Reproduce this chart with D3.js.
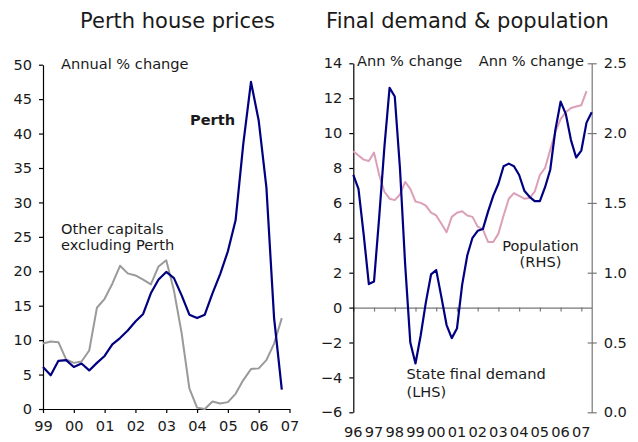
<!DOCTYPE html>
<html>
<head>
<meta charset="utf-8">
<script src="https://cdn.jsdelivr.net/npm/d3@7"></script>
<style>
  body { margin: 0; background: #fff; }
  svg text { font-family: "DejaVu Sans", Verdana, sans-serif; }
</style>
</head>
<body>
<div id="chart"></div>
<script>
// quarterly series, first point at the start year
var perthStart = 1999
var perthPrices = [6.1, 4.9, 7.0, 7.1, 6.1, 6.6, 5.6, 6.7, 7.7, 9.4, 10.3, 11.4, 12.7, 13.8, 16.8, 18.8,
    19.9, 19.0, 16.5, 13.7, 13.2, 13.7, 16.8, 19.6, 22.9, 27.4, 38.5, 47.5, 41.9, 32.2, 13.2, 2.8]
var otherCapitals = [9.5, 9.8, 9.7, 7.2, 6.7, 6.9, 8.5, 14.7, 16.0, 18.2, 20.8, 19.7, 19.4, 18.8, 18.1, 20.7,
    21.6, 17.2, 11.0, 3.0, 0.2, 0.0, 1.1, 0.8, 1.0, 2.2, 4.2, 5.8, 5.9, 7.1, 9.5, 13.2]
var perthYearLabels = ["99", "00", "01", "02", "03", "04", "05", "06", "07"]
var perthYTicks = [0, 5, 10, 15, 20, 25, 30, 35, 40, 45, 50]

var demandStart = 1996
var stateFinalDemand = [7.6, 6.8, 4.2, 1.35, 1.5, 5.2, 9.2, 12.6, 12.1, 8.0, 2.5, -2.0, -3.2, -1.6, 0.3, 1.9,
    2.15, 0.6, -1.0, -1.75, -1.2, 1.3, 3.0, 4.0, 4.4, 4.5, 5.5, 6.4, 7.1, 8.1, 8.25, 8.1,
    7.6, 6.7, 6.35, 6.1, 6.1, 6.9, 7.9, 10.2, 11.8, 11.1, 9.6, 8.6, 9.0, 10.6, 11.2]
var population = [1.87, 1.84, 1.81, 1.80, 1.86, 1.70, 1.58, 1.53, 1.52, 1.56, 1.65, 1.60, 1.51, 1.50, 1.48, 1.43,
    1.41, 1.35, 1.29, 1.40, 1.43, 1.44, 1.41, 1.40, 1.33, 1.31, 1.22, 1.22, 1.28, 1.41, 1.53, 1.57,
    1.55, 1.53, 1.535, 1.58, 1.70, 1.75, 1.88, 2.01, 2.10, 2.15, 2.18, 2.19, 2.20, 2.30]
var demandYearLabels = ["96", "97", "98", "99", "00", "01", "02", "03", "04", "05", "06", "07"]
var demandLeftTicks = [-6, -4, -2, 0, 2, 4, 6, 8, 10, 12, 14]
var demandRightTicks = [0, 0.5, 1, 1.5, 2, 2.5]

var navy = "#000080"
var grey = "#9a9a9a"
var pink = "#dc9fb8"

var svg = d3.select("#chart").append("svg")
    .attr("width", 638)
    .attr("height", 442)

function toPoints(values, start) {
    return values.map((v, i) => ({t: start + i / 4, v: v}))
}

function styleAxis(g, color) {
    g.selectAll("path").attr("stroke", color).attr("stroke-width", 1.2)
    g.selectAll("line").attr("stroke", color).attr("stroke-width", 1.2)
    g.selectAll("text").attr("fill", "#1a1a1a").style("font-size", "14.6px")
}

function drawLine(x, y, data, color, width) {
    svg.append("path")
        .datum(data)
        .attr("fill", "none")
        .attr("stroke", color)
        .attr("stroke-width", width)
        .attr("stroke-linejoin", "round")
        .attr("d", d3.line().x(d => x(d.t)).y(d => y(d.v)))
}

function addText(txt, x, y, anchor, weight) {
    svg.append("text")
        .attr("x", x).attr("y", y)
        .attr("text-anchor", anchor || "start")
        .attr("font-weight", weight || "normal")
        .style("font-size", "14.6px")
        .attr("fill", "#1a1a1a")
        .text(txt)
}

// ---- left panel: Perth house prices ----
function drawPerth() {
    var x = d3.scaleLinear([1999, 2007], [43, 289.5])
    var y = d3.scaleLinear([0, 50], [409, 64.7])

    svg.append("text").attr("x", 177.5).attr("y", 28).attr("text-anchor", "middle")
        .style("font-size", "21px").attr("fill", "#1a1a1a").text("Perth house prices")

    var xAxis = svg.append("g").attr("transform", "translate(0," + y(0) + ")")
        .call(d3.axisBottom(x).tickValues(d3.range(1999, 2008))
            .tickFormat((d, i) => perthYearLabels[i]).tickSize(4).tickSizeOuter(0).tickPadding(8))
    styleAxis(xAxis, "#000")

    var yAxis = svg.append("g").attr("transform", "translate(" + x(1999) + ",0)")
        .call(d3.axisLeft(y).tickValues(perthYTicks).tickSize(4).tickSizeOuter(0).tickPadding(7))
    styleAxis(yAxis, "#000")

    drawLine(x, y, toPoints(otherCapitals, perthStart), grey, 2)
    drawLine(x, y, toPoints(perthPrices, perthStart), navy, 2.2)

    addText("Annual % change", 61, 69)
    addText("Perth", 190, 125, "start", "bold")
    addText("Other capitals", 61, 234)
    addText("excluding Perth", 61, 250)
}

// ---- right panel: final demand and population ----
function drawDemand() {
    var x = d3.scaleLinear([1996, 2007.5], [353.3, 591.7])
    var yL = d3.scaleLinear([-6, 14], [412.3, 63.3])
    var yR = d3.scaleLinear([0, 2.5], [412.3, 63.3])

    svg.append("text").attr("x", 467.5).attr("y", 28).attr("text-anchor", "middle")
        .style("font-size", "21px").attr("fill", "#1a1a1a").text("Final demand & population")

    // zero line with year ticks hanging below it
    var zero = svg.append("g").attr("transform", "translate(0," + yL(0) + ")")
        .call(d3.axisBottom(x).tickValues(d3.range(1996, 2008)).tickFormat("").tickSize(4).tickSizeOuter(0))
    styleAxis(zero, "#777")

    // year labels along the bottom
    svg.append("g").selectAll("text")
        .data(demandYearLabels)
        .join("text")
        .attr("x", (d, i) => x(1996 + i))
        .attr("y", 437)
        .attr("text-anchor", "middle")
        .style("font-size", "14.6px")
        .attr("fill", "#1a1a1a")
        .text(d => d)

    var left = svg.append("g").attr("transform", "translate(" + x(1996) + ",0)")
        .call(d3.axisLeft(yL).tickValues(demandLeftTicks).tickSize(4).tickSizeOuter(0).tickPadding(7))
    styleAxis(left, "#000")

    var right = svg.append("g").attr("transform", "translate(" + x(2007.5) + ",0)")
        .call(d3.axisRight(yR).tickValues(demandRightTicks).tickSize(5).tickSizeOuter(0).tickPadding(7))
    styleAxis(right, "#777")
    right.selectAll(".tick line").attr("x1", -4)

    drawLine(x, yR, toPoints(population, demandStart), pink, 2)
    drawLine(x, yL, toPoints(stateFinalDemand, demandStart), navy, 2.2)

    addText("Ann % change", 357, 65.5)
    addText("Ann % change", 584, 65.5, "end")
    addText("Population", 540.5, 250.5, "middle")
    addText("(RHS)", 540.5, 267, "middle")
    addText("State final demand", 406.5, 379)
    addText("(LHS)", 406.5, 397)
}

drawPerth()
drawDemand()
</script>
</body>
</html>
